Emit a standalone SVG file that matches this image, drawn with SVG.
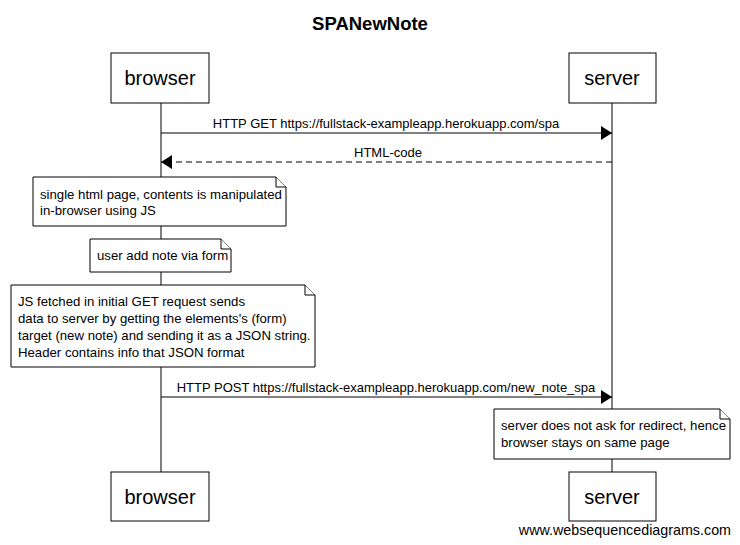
<svg xmlns="http://www.w3.org/2000/svg" width="740" height="545" viewBox="0 0 740 545">
<defs>
<style>
text{font-family:"Liberation Sans",Arial,sans-serif;fill:#000}
.box{fill:#fff;stroke:#000;stroke-width:1}
.pt{font-size:20px;text-anchor:middle}
.lbl{font-size:13px;text-anchor:middle}
.nt{font-size:13.2px}
.life{stroke:#000;stroke-width:1}
.msg{stroke:#000;stroke-width:1;fill:none}
.dash{stroke-dasharray:6,4}
.note{fill:#fff;stroke:#000;stroke-width:1}
</style>
<marker id="ah" markerWidth="12" markerHeight="14" refX="11" refY="7" orient="auto" markerUnits="userSpaceOnUse">
<path d="M0,0 L11,7 L0,14 Z" fill="#000"/>
</marker>
</defs>
<rect width="740" height="545" fill="#fff"/>
<text x="370" y="30" font-size="18.5" font-weight="bold" text-anchor="middle">SPANewNote</text>
<g id="lifelines">
<line class="life" x1="161" y1="103" x2="161" y2="472"/>
<line class="life" x1="612" y1="103" x2="612" y2="472"/>
</g>
<g id="connectors">
<line class="msg" x1="161" y1="133" x2="612" y2="133" marker-end="url(#ah)"/>
<text class="lbl" x="386" y="128">HTTP GET https://fullstack-exampleapp.herokuapp.com/spa</text>
<line class="msg dash" x1="612" y1="162" x2="161" y2="162" marker-end="url(#ah)"/>
<text class="lbl" x="388" y="157">HTML-code</text>
<line class="msg" x1="161" y1="397" x2="612" y2="397" marker-end="url(#ah)"/>
<text class="lbl" x="386" y="392">HTTP POST https://fullstack-exampleapp.herokuapp.com/new_note_spa</text>
</g>
<g id="browser-top"><rect class="box" x="111" y="53" width="98" height="50"/><text class="pt" x="160" y="85">browser</text></g>
<g id="server-top"><rect class="box" x="569" y="53" width="87" height="50"/><text class="pt" x="612" y="85">server</text></g>
<g id="browser-bottom"><rect class="box" x="111" y="472" width="98" height="49"/><text class="pt" x="160" y="504">browser</text></g>
<g id="server-bottom"><rect class="box" x="569" y="472" width="87" height="49"/><text class="pt" x="612" y="504">server</text></g>
<g id="note1">
<path class="note" d="M33,177 H276 L286,187 V226 H33 Z"/>
<path class="note" d="M276,177 V187 H286" fill="none"/>
<text class="nt" x="40" y="199">single html page, contents is manipulated</text>
<text class="nt" x="40" y="215">in-browser using JS</text>
</g>
<g id="note2">
<path class="note" d="M90,239 H221 L231,249 V272 H90 Z"/>
<path class="note" d="M221,239 V249 H231" fill="none"/>
<text class="nt" x="97" y="260">user add note via form</text>
</g>
<g id="note3">
<path class="note" d="M11,285 H305 L315,295 V367 H11 Z"/>
<path class="note" d="M305,285 V295 H315" fill="none"/>
<text class="nt" x="18" y="306">JS fetched in initial GET request sends</text>
<text class="nt" x="18" y="323">data to server by getting the elements's (form)</text>
<text class="nt" x="18" y="340">target (new note) and sending it as a JSON string.</text>
<text class="nt" x="18" y="357">Header contains info that JSON format</text>
</g>
<g id="note4">
<path class="note" d="M494,409 H720 L730,419 V459 H494 Z"/>
<path class="note" d="M720,409 V419 H730" fill="none"/>
<text class="nt" x="501" y="430">server does not ask for redirect, hence</text>
<text class="nt" x="501" y="447">browser stays on same page</text>
</g>
<text x="731" y="535" font-size="14.3" text-anchor="end">www.websequencediagrams.com</text>
</svg>
